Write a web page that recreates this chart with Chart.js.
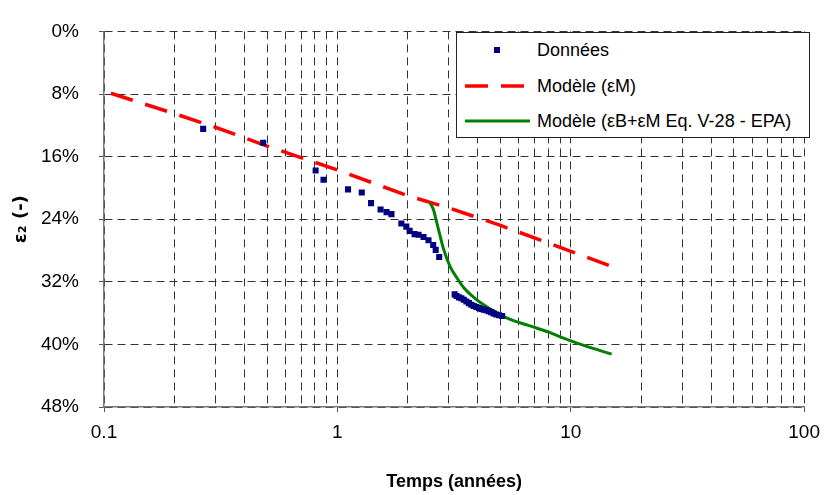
<!DOCTYPE html>
<html>
<head>
<meta charset="utf-8">
<script src="https://cdn.jsdelivr.net/npm/chart.js@4.4.1/dist/chart.umd.min.js"></script>
<style>
  html, body { margin: 0; padding: 0; background: #fff; }
  #wrap { position: relative; width: 829px; height: 495px; }
  #legende {
    position: absolute; left: 456px; top: 32px; width: 352px; height: 104px;
    border: 1px solid #222; background: #fff;
    font-family: 'Liberation Sans', Arial, sans-serif; font-size: 18px; color: #000;
  }
  .ligne { position: absolute; left: 0; height: 24px; line-height: 24px; white-space: nowrap; }
  .ligne svg { position: absolute; left: 8px; top: 7px; }
  .ligne span { position: absolute; left: 80px; }
</style>
</head>
<body>
<div id="wrap">
  <canvas id="graphe" width="829" height="495"></canvas>
  <div id="legende"></div>
</div>
<script>
// Données mesurées (temps en années, déformation en %)
var tempsDonnees = [0.266, 0.481, 0.807, 0.872, 1.111, 1.272, 1.394, 1.531, 1.624, 1.705,
  1.880, 1.974, 2.040, 2.142, 2.228, 2.340, 2.457, 2.574, 2.638, 2.731,
  3.18, 3.24, 3.32, 3.40, 3.48, 3.57, 3.66, 3.75, 3.84, 3.94,
  4.04, 4.14, 4.24, 4.34, 4.45, 4.56, 4.67, 4.79, 4.93, 5.08];
var epsDonnees = [12.46, 14.23, 17.78, 18.95, 20.19, 20.59, 21.95, 22.76, 23.10, 23.35,
  24.55, 24.95, 25.49, 25.91, 25.98, 26.28, 26.69, 27.30, 27.92, 28.84,
  33.61, 33.82, 33.99, 34.11, 34.29, 34.52, 34.73, 34.94, 35.10, 35.22,
  35.35, 35.47, 35.56, 35.63, 35.75, 35.88, 36.03, 36.18, 36.27, 36.37];

// Modèle (εM)
var tempsModeleM = [0.107, 0.2, 0.3, 0.5, 1, 2, 3, 5, 10, 15];
var epsModeleM = [7.9, 10.5, 12.25, 14.66, 17.7, 21.0, 22.55, 24.8, 28.1, 30.06];

// Modèle (εB+εM Eq. V-28 - EPA)
var tempsModeleBM = [2.495, 2.579, 2.665, 2.752, 2.844, 3.034, 3.24, 3.46, 3.81, 4.14,
  5.28, 6.63, 8.06, 9.19, 11.2, 14.97];
var epsModeleBM = [21.95, 22.76, 24.42, 26.07, 27.71, 29.99, 31.42, 32.66, 33.90, 34.73,
  36.58, 37.61, 38.44, 39.14, 40.07, 41.25];

// axes
var xGrille = [0.1, 0.2, 0.3, 0.4, 0.5, 0.6, 0.7, 0.8, 0.9,
  1, 2, 3, 4, 5, 6, 7, 8, 9,
  10, 20, 30, 40, 50, 60, 70, 80, 90, 100];
var xLabels = ['0.1', '1', '10', '100'];
var yTicks = [0, 8, 16, 24, 32, 40, 48];

var police = "'Liberation Sans', Arial, sans-serif";

function toPoints(xs, ys) {
  var pts = [];
  for (let i = 0; i < xs.length; i++) {
    pts.push({ x: xs[i], y: ys[i] });
  }
  return pts;
}

function estMajeur(v) {
  return xLabels.indexOf(String(v)) >= 0;
}

var datasets = [
  {
    label: 'Données',
    data: toPoints(tempsDonnees, epsDonnees),
    showLine: false,
    pointStyle: 'rect',
    pointRadius: 4.3,
    pointBorderWidth: 0,
    backgroundColor: '#000080',
    borderColor: '#000080',
    order: 0
  },
  {
    label: 'Modèle (εM)',
    data: toPoints(tempsModeleM, epsModeleM),
    showLine: true,
    borderColor: '#ff0000',
    backgroundColor: '#ff0000',
    borderWidth: 3.5,
    borderDash: [23, 13],
    pointRadius: 0,
    order: 2
  },
  {
    label: 'Modèle (εB+εM Eq. V-28 - EPA)',
    data: toPoints(tempsModeleBM, epsModeleBM),
    showLine: true,
    borderColor: '#008000',
    backgroundColor: '#008000',
    borderWidth: 3,
    pointRadius: 0,
    cubicInterpolationMode: 'monotone',
    order: 1
  }
];

var config = {
  type: 'scatter',
  data: { datasets: datasets },
  options: {
    responsive: false,
    animation: false,
    events: [],
    layout: { padding: { top: 19, right: 18, left: 0, bottom: 0 } },
    plugins: {
      legend: { display: false },
      tooltip: { enabled: false },
      title: { display: false }
    },
    scales: {
      x: {
        type: 'logarithmic',
        min: 0.1,
        max: 100,
        afterBuildTicks: function (scale) {
          scale.ticks = xGrille.map(function (v) { return { value: v, major: estMajeur(v) }; });
        },
        afterFit: function (scale) { scale.height = 88; },
        ticks: {
          autoSkip: false,
          maxRotation: 0,
          padding: 9,
          color: '#000',
          font: { family: police, size: 19 },
          callback: function (value) {
            return estMajeur(value) ? String(value) : '';
          }
        },
        grid: {
          color: '#333',
          lineWidth: 1,
          tickLength: 5,
          tickColor: function (ctx) {
            return ctx.tick && estMajeur(ctx.tick.value) ? '#555' : 'rgba(0,0,0,0)';
          }
        },
        border: { display: true, color: '#777', width: 1.5, dash: [8, 5] },
        title: {
          display: true,
          text: 'Temps (années)',
          color: '#000',
          font: { family: police, size: 18, weight: 'bold' },
          padding: { top: 0, bottom: 2 }
        }
      },
      y: {
        type: 'linear',
        reverse: true,
        min: 0,
        max: 48,
        afterBuildTicks: function (scale) {
          scale.ticks = yTicks.map(function (v) { return { value: v }; });
        },
        afterFit: function (scale) { scale.width = 104; },
        ticks: {
          padding: 20,
          color: '#000',
          font: { family: police, size: 19 },
          callback: function (value) { return value + '%'; }
        },
        grid: {
          color: '#333',
          lineWidth: 1,
          tickLength: 5,
          tickColor: '#555'
        },
        border: { display: true, color: '#777', width: 1.5, dash: [8, 5] },
        title: {
          display: true,
          text: 'ε₂ (-)',
          color: '#000',
          font: { family: "'DejaVu Sans', " + police, size: 18, weight: 'bold' },
          padding: { top: 11, bottom: 0 }
        }
      }
    }
  }
};

function swatch(ds) {
  if (ds.showLine === false) {
    return '<svg width="66" height="10"><rect x="29" y="2" width="6" height="6" fill="' + ds.backgroundColor + '"/></svg>';
  }
  var dash = ds.borderDash ? ' stroke-dasharray="' + ds.borderDash.join(' ') + '"' : '';
  return '<svg width="66" height="10"><line x1="0" y1="5" x2="65" y2="5" stroke="' + ds.borderColor +
    '" stroke-width="' + ds.borderWidth + '"' + dash + '/></svg>';
}

function showLegende(chart) {
  var box = document.getElementById('legende');
  var html = '';
  var tops = [5, 41, 76];
  chart.data.datasets.forEach(function (ds, i) {
    html += '<div class="ligne" style="top:' + tops[i] + 'px">' + swatch(ds) + '<span>' + ds.label + '</span></div>';
  });
  box.innerHTML = html;
}

window.onload = function () {
  var ctx = document.getElementById('graphe');
  var chart = new Chart(ctx, config);
  showLegende(chart);
};
</script>
</body>
</html>
